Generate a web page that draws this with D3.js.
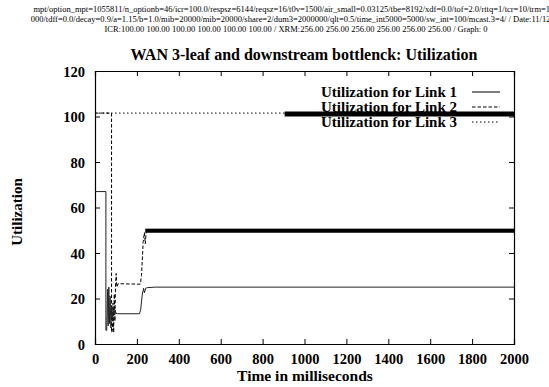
<!DOCTYPE html>
<html>
<head>
<meta charset="utf-8">
<script src="https://cdn.jsdelivr.net/npm/d3@7"></script>
<style>
  body { margin: 0; background: #fff; }
  svg text { font-family: "Liberation Serif", "Times New Roman", serif; }
</style>
</head>
<body>
<div id="chart"></div>
<script>
// header lines printed above the plot
const headerLines = [
  "mpt/option_mpt=1055811/n_optionb=46/icr=100.0/respsz=6144/reqsz=16/t0v=1500/air_small=0.03125/tbe=8192/xdf=0.0/tof=2.0/rttq=1/tcr=10/trm=100",
  "000/tdff=0.0/decay=0.9/a=1.15/b=1.0/mib=20000/mib=20000/share=2/dum3=2000000/qlt=0.5/time_int5000=5000/sw_int=100/mcast.3=4/ / Date:11/12/97",
  "ICR:100.00 100.00 100.00 100.00 100.00 100.00 / XRM:256.00 256.00 256.00 256.00 256.00 256.00 / Graph: 0"
];
const title = "WAN 3-leaf and downstream bottlenck: Utilization";
const xLabel = "Time in milliseconds";
const yLabel = "Utilization";
const xTicks = [0, 200, 400, 600, 800, 1000, 1200, 1400, 1600, 1800, 2000];
const yTicks = [0, 20, 40, 60, 80, 100, 120];
const seriesNames = ["Utilization for Link 1", "Utilization for Link 2", "Utilization for Link 3"];

// Link 1 (solid)
const link1T = [0, 52, 52, 56, 60, 63, 66, 69, 72, 76, 80, 84, 88, 92, 96, 100, 108, 212, 218, 226, 232, 236, 242, 250, 290, 2000];
const link1V = [67, 67, 6, 6, 24, 8, 25, 9, 21, 7, 17, 11, 16, 13, 15, 13.5, 13.3, 13.3, 15, 22, 24.5, 22.5, 24.5, 24.8, 25, 25];
// Link 2 (dashed)
const link2T = [0, 79, 79, 83, 86, 89, 92, 95, 98, 101, 104, 110, 216, 222, 230, 236, 240, 244, 250, 2000];
const link2V = [101.5, 101.5, 5, 6, 18, 5, 22, 10, 26, 31, 25, 26.5, 26.3, 30, 45, 49, 44, 49, 49.5, 49.5];
// Link 2 dense oscillation band after settling [start, end, low, high]
const link2Band = [240, 2000, 48.9, 50.7];
// Link 3 (dotted)
const link3T = [0, 905];
const link3V = [101.5, 101.5];
const link3Band = [905, 2000, 100, 102.2];

const W = 549, H = 387;
const margin = {top: 71, right: 35, bottom: 43, left: 95};
const width = W - margin.left - margin.right;
const height = H - margin.top - margin.bottom;

const svg = d3.select("#chart").append("svg")
  .attr("width", W).attr("height", H);

// header text
headerLines.forEach((t, i) => {
  svg.append("text")
    .attr("x", 296).attr("y", 12 + i * 10)
    .attr("text-anchor", "middle")
    .style("font-size", "8.5px")
    .text(t);
});

svg.append("text")
  .attr("x", 304).attr("y", 60)
  .attr("text-anchor", "middle")
  .style("font-size", "16px").style("font-weight", "bold")
  .text(title);

const x = d3.scaleLinear().domain([0, 2000]).range([0, width]);
const y = d3.scaleLinear().domain([0, 120]).range([height, 0]);

const g = svg.append("g").attr("transform", `translate(${margin.left},${margin.top})`);

// axes with inward ticks, mirrored on top and right
const xAxis = g.append("g").attr("transform", `translate(0,${height})`)
  .call(d3.axisBottom(x).tickValues(xTicks).tickSize(-5).tickPadding(10).tickFormat(d3.format("d")));
const xTop = g.append("g")
  .call(d3.axisTop(x).tickValues(xTicks).tickSize(-5).tickFormat(""));
const yAxis = g.append("g")
  .call(d3.axisLeft(y).tickValues(yTicks).tickSize(-5).tickPadding(10));
const yRight = g.append("g").attr("transform", `translate(${width},0)`)
  .call(d3.axisRight(y).tickValues(yTicks).tickSize(-5).tickFormat(""));

[xAxis, xTop, yAxis, yRight].forEach(a => {
  a.attr("font-family", "Liberation Serif");
  a.selectAll(".domain").attr("stroke", "#000").attr("stroke-width", 1.2);
  a.selectAll(".tick line").attr("stroke", "#000");
  a.selectAll("text").style("font-size", "14.5px").style("font-weight", "bold").attr("fill", "#000");
});
yAxis.selectAll("text").attr("dy", "0.35em");

const line = d3.line().x(d => x(d[0])).y(d => y(d[1]));
const zip = (a, b) => a.map((t, i) => [t, b[i]]);

g.append("path").datum(zip(link3T, link3V))
  .attr("d", line).attr("fill", "none").attr("stroke", "#000")
  .attr("stroke-width", 1).attr("stroke-dasharray", "1.5,2.5");
g.append("path").datum(zip(link2T, link2V))
  .attr("d", line).attr("fill", "none").attr("stroke", "#000")
  .attr("stroke-width", 1).attr("stroke-dasharray", "3.5,2");
g.append("path").datum(zip(link1T, link1V))
  .attr("d", line).attr("fill", "none").attr("stroke", "#222")
  .attr("stroke-width", 1);

[link2Band, link3Band].forEach(b => {
  g.append("rect")
    .attr("x", x(b[0])).attr("width", x(b[1]) - x(b[0]))
    .attr("y", y(b[3])).attr("height", y(b[2]) - y(b[3]))
    .attr("fill", "#000");
});

// legend
const dashes = [null, "3.5,2", "1.5,2.5"];
seriesNames.forEach((name, i) => {
  const ly = 97 + i * 15;
  svg.append("text")
    .attr("x", 457).attr("y", ly)
    .attr("text-anchor", "end")
    .style("font-size", "15px").style("font-weight", "bold")
    .text(name);
  svg.append("line")
    .attr("x1", 472).attr("x2", 500)
    .attr("y1", ly - 5).attr("y2", ly - 5)
    .attr("stroke", "#000").attr("stroke-width", 1)
    .attr("stroke-dasharray", dashes[i]);
});

svg.append("text")
  .attr("x", 305).attr("y", 381)
  .attr("text-anchor", "middle")
  .style("font-size", "15.5px").style("font-weight", "bold")
  .text(xLabel);

svg.append("text")
  .attr("transform", "translate(22,212) rotate(-90)")
  .attr("text-anchor", "middle")
  .style("font-size", "15px").style("font-weight", "bold")
  .text(yLabel);
</script>
</body>
</html>
